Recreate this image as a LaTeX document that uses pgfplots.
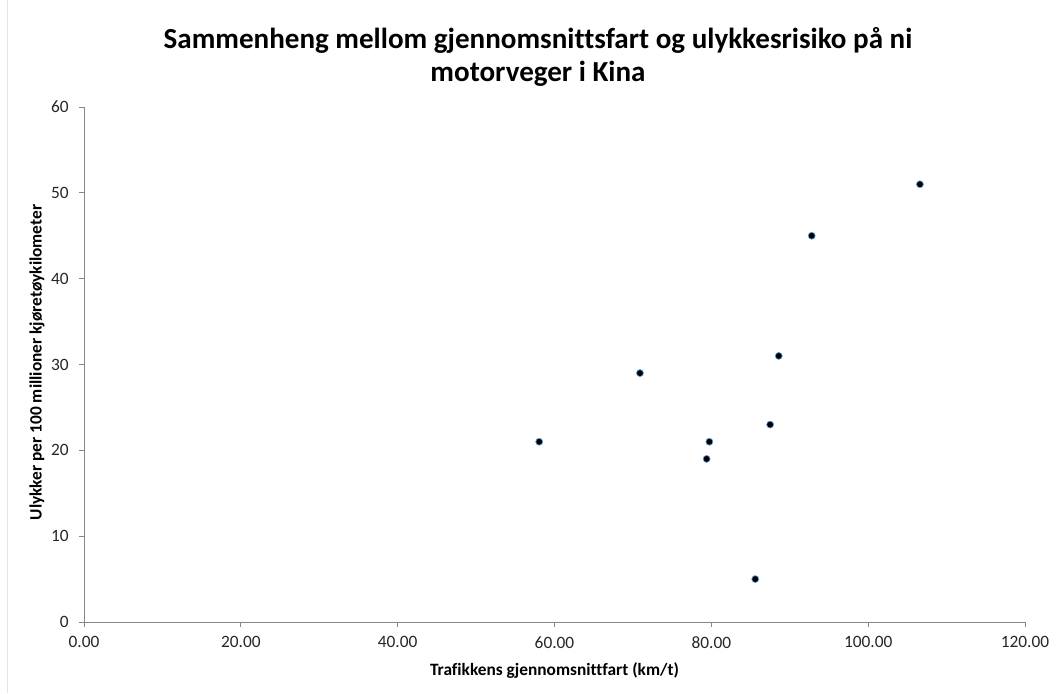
\documentclass[border=0pt]{standalone}
\usepackage{pgfplots}
\pgfplotsset{compat=1.18}
\usepackage{fontspec}
\setmainfont{Carlito}[Ligatures={NoCommon}]
\definecolor{axgray}{HTML}{868686}
\definecolor{mkedge}{HTML}{5B9BD5}
\begin{document}
\begin{tikzpicture}
\path[use as bounding box] (0,0) rectangle (792.75pt,519.75pt);
\draw[gray!20, line width=0.75pt] (5.5pt,0) -- (5.5pt,519.75pt);
\begin{axis}[
  at={(63pt,53.25pt)}, anchor=south west,
  scale only axis, width=705.75pt, height=386.25pt,
  xmin=0, xmax=120, ymin=0, ymax=60,
  xtick={0,20,...,120}, ytick={0,10,...,60},
  axis x line*=bottom, axis y line*=left,
  axis line style={axgray, line width=0.75pt},
  every tick/.style={axgray, line width=0.75pt},
  tick align=outside, major tick length=3.4pt,
  /pgf/number format/assume math mode=true,
  xticklabel style={yshift=-4pt, /pgf/number format/.cd, fixed, fixed zerofill, precision=2},
  yticklabel style={xshift=-4.6pt, /pgf/number format/.cd, fixed, precision=0},
  tick label style={font=\fontsize{13}{15}\selectfont, text=black!85},
  title={Sammenheng mellom gjennomsnittsfart og ulykkesrisiko på ni\\motorveger i Kina},
  title style={at={(axis description cs:0.4825,1.097)}, anchor=center, yshift=-6pt, align=center, font=\bfseries\fontsize{21.8}{25}\selectfont},
  xlabel={Trafikkens gjennomsnittfart (km/t)},
  xlabel style={at={(axis description cs:0.5,-0.095)}, anchor=center, font=\bfseries\fontsize{13}{15}\selectfont},
  ylabel={Ulykker per 100 millioner kjøretøykilometer},
  ylabel style={at={(axis description cs:-0.05,0.504)}, anchor=center, rotate=0, font=\bfseries\fontsize{13}{15}\selectfont},
  clip=false,
]
\addplot[only marks, mark=*, mark size=2.6pt, mark options={fill=black, draw=mkedge, line width=0.5pt}] coordinates {
  (58.05,21) (70.9,29) (79.4,19) (79.75,21) (85.6,5) (87.5,23) (88.6,31) (92.8,45) (106.6,51)
};
\end{axis}
\end{tikzpicture}
\end{document}
